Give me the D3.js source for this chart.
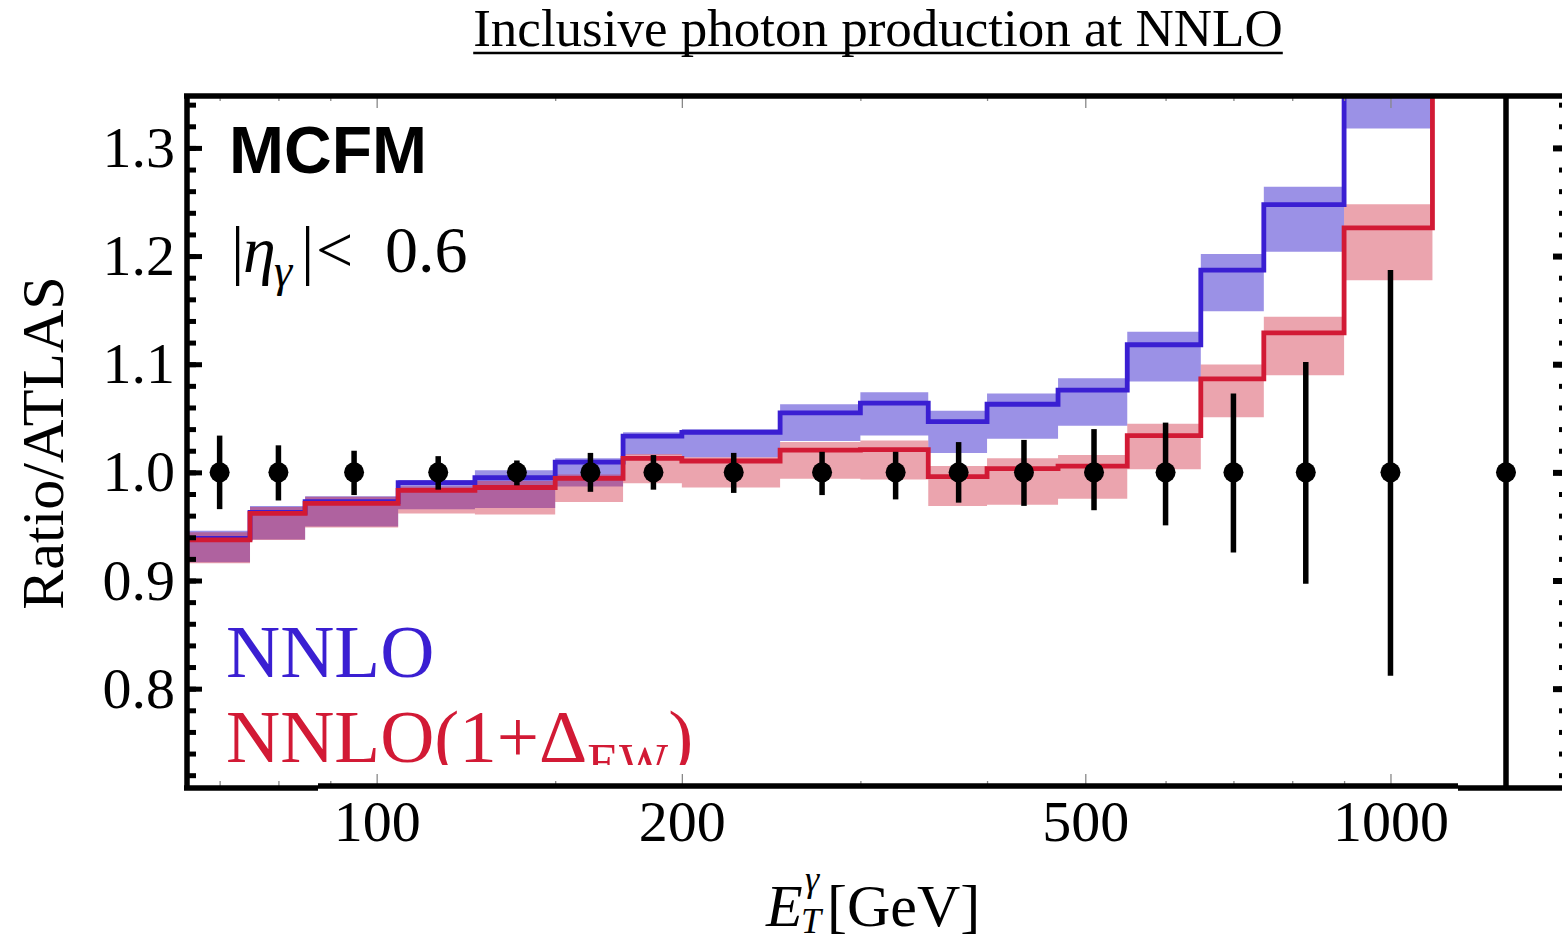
<!DOCTYPE html>
<html>
<head>
<meta charset="utf-8">
<script src="https://cdn.jsdelivr.net/npm/d3@7"></script>
<style>
  html, body { margin: 0; padding: 0; background: #fff; }
  svg { display: block; }
  text { font-family: "Liberation Serif", "Times New Roman", serif; }
</style>
</head>
<body>
<svg id="chart" width="1562" height="940"></svg>
<script>
// ---------------- data ----------------
const binEdges = [65, 75, 85, 105, 125, 150, 175, 200, 250, 300, 350, 400, 470, 550, 650, 750, 900, 1100, 1500];

const nnlo    = [0.939, 0.963, 0.973, 0.9905, 0.995, 1.0095, 1.0335, 1.037, 1.055, 1.064, 1.047, 1.063, 1.076, 1.118, 1.187, 1.2475, 1.37, 1.65];
const nnloLo  = [0.917, 0.938, 0.950, 0.966, 0.967, 0.987, 1.0166, 1.014, 1.029, 1.034, 1.018, 1.031, 1.043, 1.084, 1.149, 1.204, 1.318, 1.60];
const nnloHi  = [0.946, 0.969, 0.978, 0.993, 1.002, 1.013, 1.037, 1.040, 1.063, 1.074, 1.057, 1.073, 1.087, 1.130, 1.202, 1.264, 1.40, 1.70];

const nnloEW   = [0.9375, 0.962, 0.9714, 0.9834, 0.986, 0.9945, 1.013, 1.0105, 1.0206, 1.021, 0.996, 1.0034, 1.0058, 1.034, 1.0865, 1.129, 1.226, 1.50];
const nnloEWLo = [0.916, 0.9375, 0.949, 0.962, 0.961, 0.9726, 0.990, 0.986, 0.994, 0.9935, 0.969, 0.970, 0.9757, 1.0028, 1.051, 1.0898, 1.1776, 1.45];
const nnloEWHi = [0.9446, 0.968, 0.9775, 0.987, 0.992, 0.998, 1.017, 1.014, 1.028, 1.0295, 1.006, 1.013, 1.016, 1.045, 1.0997, 1.144, 1.248, 1.52];

const dataET    = [70, 80, 95, 115, 137.5, 162.5, 187.5, 225, 275, 325, 375, 435, 510, 600, 700, 825, 1000, 1300];
const dataRatio = [1, 1, 1, 1, 1, 1, 1, 1, 1, 1, 1, 1, 1, 1, 1, 1, 1, 1];
const errUp     = [0.034, 0.025, 0.020, 0.015, 0.011, 0.018, 0.016, 0.018, 0.019, 0.019, 0.028, 0.030, 0.040, 0.046, 0.073, 0.102, 0.187, 0.70];
const errDown   = [0.034, 0.026, 0.021, 0.016, 0.012, 0.018, 0.016, 0.019, 0.021, 0.025, 0.028, 0.031, 0.035, 0.049, 0.074, 0.103, 0.188, 0.70];

const xMajorTicks = [100, 200, 500, 1000];
const xMinorTicks = [70, 80, 90, 150, 300, 400, 600, 700, 800, 900];
const yMajorTicks = [0.8, 0.9, 1.0, 1.1, 1.2, 1.3];
const yMinorTicks = d3.range(36, 68).map(k => k * 0.02).filter(v => v > 0.71 && v < 1.348);

// ---------------- layout ----------------
const svg = d3.select("#chart");
const L = 187, R = 1569, T = 96, B = 786;
const x = d3.scaleLog().domain([65, 1500]).range([L, R]);
const y = d3.scaleLinear().domain([0.71, 1.348]).range([B, T]);

const blue = "#3a1fd2", red = "#d21a35";

svg.append("defs").append("clipPath").attr("id", "plotclip")
  .append("rect").attr("x", L).attr("y", T).attr("width", R - L).attr("height", B - T);
svg.select("defs").append("clipPath").attr("id", "legclip")
  .append("rect").attr("x", 190).attr("y", 100).attr("width", 1000).attr("height", 665);

const plot = svg.append("g").attr("clip-path", "url(#plotclip)");

function stepData(vals, lo, hi) {
  const d = vals.map((v, i) => ({ e: binEdges[i], v, lo: lo[i], hi: hi[i] }));
  const n = vals.length;
  d.push({ e: binEdges[n], v: vals[n - 1], lo: lo[n - 1], hi: hi[n - 1] });
  return d;
}
const sBlue = stepData(nnlo, nnloLo, nnloHi);
const sRed = stepData(nnloEW, nnloEWLo, nnloEWHi);

const area = d3.area().curve(d3.curveStepAfter)
  .x(d => x(d.e)).y0(d => y(d.lo)).y1(d => y(d.hi));
const line = d3.line().curve(d3.curveStepAfter)
  .x(d => x(d.e)).y(d => y(d.v));

plot.append("path").datum(sBlue).attr("d", area)
  .attr("fill", "rgb(55,35,205)").attr("fill-opacity", 0.5);
plot.append("path").datum(sRed).attr("fill", "rgb(206,28,52)").attr("fill-opacity", 0.4)
  .attr("d", area);
plot.append("path").datum(sBlue).attr("d", line)
  .attr("fill", "none").attr("stroke", blue).attr("stroke-width", 4.8);
plot.append("path").datum(sRed).attr("d", line)
  .attr("fill", "none").attr("stroke", red).attr("stroke-width", 4.8);

// data points
const pts = dataET.map((e, i) => ({ e, r: dataRatio[i], up: errUp[i], dn: errDown[i] }));
plot.selectAll("line.err").data(pts).enter().append("line")
  .attr("x1", d => x(d.e)).attr("x2", d => x(d.e))
  .attr("y1", d => y(d.r + d.up)).attr("y2", d => y(d.r - d.dn))
  .attr("stroke", "#000").attr("stroke-width", 5.5);
plot.selectAll("circle.pt").data(pts).enter().append("circle")
  .attr("cx", d => x(d.e)).attr("cy", d => y(d.r)).attr("r", 10).attr("fill", "#000");

// ---------------- axes ----------------
function styleAxis(g, color, width) {
  g.select(".domain").remove();
  g.selectAll(".tick line").attr("stroke", color).attr("stroke-width", width);
}
// bottom
const gxB = svg.append("g").attr("transform", `translate(0,${B})`)
  .call(d3.axisBottom(x).tickValues(xMajorTicks).tickSize(-12).tickPadding(14).tickFormat(d3.format("d")));
styleAxis(gxB, "#888", 1.3);
gxB.selectAll("text").attr("font-size", 58).attr("fill", "#000")
  .style("font-family", "'Liberation Serif', serif");
const gxBm = svg.append("g").attr("transform", `translate(0,${B})`)
  .call(d3.axisBottom(x).tickValues(xMinorTicks).tickSize(-5).tickFormat(""));
styleAxis(gxBm, "#888", 1.3);
// top
const gxT = svg.append("g").attr("transform", `translate(0,${T})`)
  .call(d3.axisTop(x).tickValues(xMajorTicks).tickSize(-12).tickFormat(""));
styleAxis(gxT, "#888", 1.3);
const gxTm = svg.append("g").attr("transform", `translate(0,${T})`)
  .call(d3.axisTop(x).tickValues(xMinorTicks).tickSize(-5).tickFormat(""));
styleAxis(gxTm, "#888", 1.3);
// left
const gyL = svg.append("g").attr("transform", `translate(${L},0)`)
  .call(d3.axisLeft(y).tickValues(yMajorTicks).tickSize(-15).tickPadding(12).tickFormat(d3.format(".1f")));
styleAxis(gyL, "#000", 5);
gyL.selectAll("text").attr("font-size", 58).attr("fill", "#000")
  .style("font-family", "'Liberation Serif', serif");
const gyLm = svg.append("g").attr("transform", `translate(${L},0)`)
  .call(d3.axisLeft(y).tickValues(yMinorTicks).tickSize(-9).tickFormat(""));
styleAxis(gyLm, "#000", 5);
// right
const gyR = svg.append("g").attr("transform", `translate(${R},0)`)
  .call(d3.axisRight(y).tickValues(yMajorTicks).tickSize(-16).tickFormat(""));
styleAxis(gyR, "#000", 6);
const gyRm = svg.append("g").attr("transform", `translate(${R},0)`)
  .call(d3.axisRight(y).tickValues(yMinorTicks).tickSize(-10).tickFormat(""));
styleAxis(gyRm, "#000", 5);

// frame
const frame = svg.append("g").attr("stroke", "#000").attr("stroke-width", 5.5);
frame.append("line").attr("x1", L - 3).attr("x2", 1562).attr("y1", T).attr("y2", T);
frame.append("line").attr("x1", L).attr("x2", L).attr("y1", T - 2).attr("y2", B + 4);
frame.append("line").attr("x1", L - 3).attr("x2", 318).attr("y1", B + 2).attr("y2", B + 2);
frame.append("line").attr("x1", 318).attr("x2", 1458).attr("y1", B).attr("y2", B);
frame.append("line").attr("x1", 1458).attr("x2", 1562).attr("y1", B + 2).attr("y2", B + 2);

// ---------------- texts ----------------
// title
const title = svg.append("text").attr("x", 878).attr("y", 46).attr("text-anchor", "middle")
  .attr("font-size", 53).attr("fill", "#000").text("Inclusive photon production at NNLO");
const tw = title.node().getComputedTextLength();
svg.append("line").attr("x1", 878 - tw / 2).attr("x2", 878 + tw / 2).attr("y1", 53).attr("y2", 53)
  .attr("stroke", "#000").attr("stroke-width", 2.5);

// y title
svg.append("text").attr("transform", "translate(63,443) rotate(-90)").attr("text-anchor", "middle")
  .attr("font-size", 60).attr("fill", "#000").text("Ratio/ATLAS");

// x title
svg.append("text").attr("x", 766).attr("y", 926).attr("font-size", 60).attr("font-style", "italic")
  .attr("fill", "#000").text("E");
svg.append("text").attr("x", 805).attr("y", 891).attr("font-size", 36).attr("font-style", "italic")
  .attr("fill", "#000").text("γ");
svg.append("text").attr("x", 801).attr("y", 933).attr("font-size", 36).attr("font-style", "italic")
  .attr("fill", "#000").text("T");
svg.append("text").attr("x", 827).attr("y", 926).attr("font-size", 60).attr("fill", "#000").text("[GeV]");

// MCFM
svg.append("text").attr("x", 229).attr("y", 173).attr("font-size", 66).attr("font-weight", "bold")
  .style("font-family", "'Liberation Sans', Arial, sans-serif").attr("fill", "#000").text("MCFM");

// |eta_gamma| < 0.6
const et = svg.append("text").attr("y", 272).attr("font-size", 66).attr("fill", "#000");
et.append("tspan").attr("x", 231).text("|");
et.append("tspan").attr("x", 243).attr("font-style", "italic").text("η");
et.append("tspan").attr("x", 274).attr("font-style", "italic").attr("font-size", 46).attr("dy", 14).text("γ");
et.append("tspan").attr("x", 301).attr("dy", -14).text("|");
et.append("tspan").attr("x", 316).text("<");
et.append("tspan").attr("x", 385).text("0.6");

// legend
svg.append("text").attr("x", 226).attr("y", 677).attr("font-size", 75).attr("fill", blue).text("NNLO");
const lg = svg.append("text").attr("x", 226).attr("y", 762).attr("font-size", 75).attr("fill", red)
  .attr("clip-path", "url(#legclip)");
lg.append("tspan").text("NNLO(1+Δ");
lg.append("tspan").attr("font-size", 52).attr("dy", 18).text("EW");
lg.append("tspan").attr("dy", -18).text(")");
</script>
</body>
</html>
